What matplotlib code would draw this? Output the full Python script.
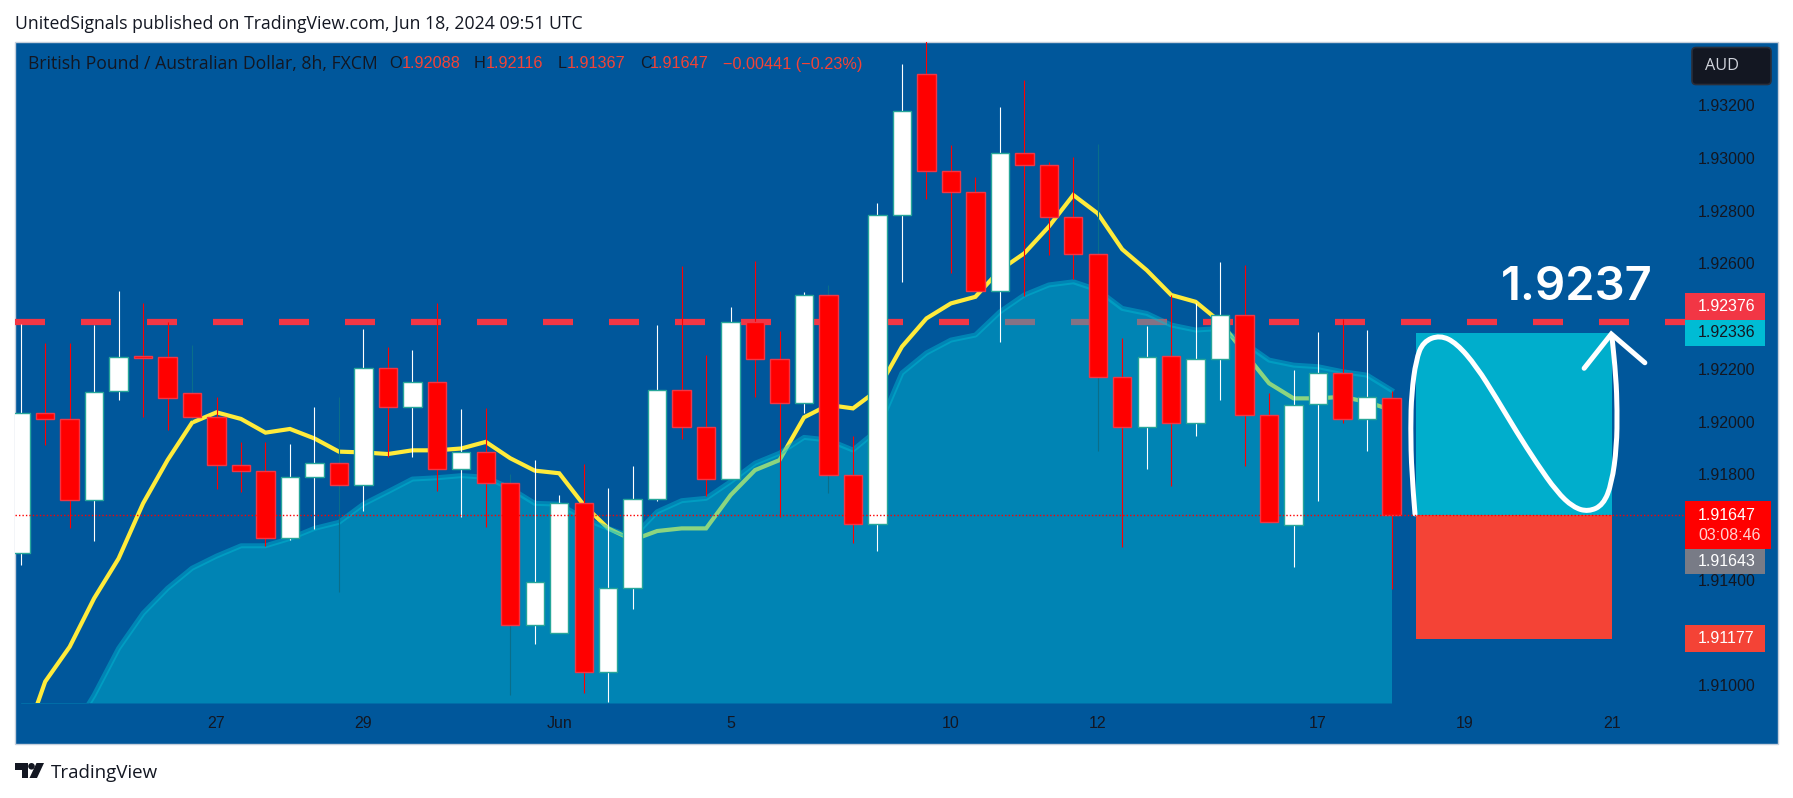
import matplotlib
matplotlib.use("Agg")
import matplotlib.pyplot as plt
from matplotlib.patches import Rectangle, FancyBboxPatch, Polygon, Circle, PathPatch
from matplotlib.path import Path

W, H = 1793, 798

# GBP/AUD 8h candles
opens = [1.91500, 1.92031, 1.92008, 1.91701, 1.92115, 1.92248, 1.92243, 1.92107, 1.92016, 1.91834,
         1.91814, 1.91557, 1.91789, 1.91842, 1.91760, 1.92202, 1.92054, 1.92149, 1.91821, 1.91883,
         1.91766, 1.91227, 1.91197, 1.91690, 1.91049, 1.91370, 1.91707, 1.92119, 1.91980, 1.91781,
         1.92378, 1.92236, 1.92069, 1.92480, 1.91796, 1.91610, 1.92782, 1.93316, 1.92949, 1.92869,
         1.92495, 1.93017, 1.92971, 1.92774, 1.92634, 1.92168, 1.91978, 1.92248, 1.91996, 1.92236,
         1.92403, 1.92024, 1.91607, 1.92066, 1.92183, 1.92011, 1.92088]
highs = [1.92370, 1.92297, 1.92298, 1.92366, 1.92495, 1.92449, 1.92377, 1.92290, 1.92094, 1.91923,
         1.91923, 1.91915, 1.92056, 1.92094, 1.92351, 1.92281, 1.92271, 1.92450, 1.92047, 1.92050,
         1.91801, 1.91854, 1.91721, 1.91839, 1.91747, 1.91831, 1.92366, 1.92591, 1.92252, 1.92435,
         1.92609, 1.92343, 1.92492, 1.92518, 1.91945, 1.92830, 1.93355, 1.93465, 1.93048, 1.92926,
         1.93191, 1.93295, 1.92983, 1.93002, 1.93052, 1.92317, 1.92362, 1.92480, 1.92449, 1.92605,
         1.92592, 1.92107, 1.92195, 1.92339, 1.92387, 1.92347, 1.92116]
lows = [1.91456, 1.91911, 1.91597, 1.91547, 1.92082, 1.92017, 1.91968, 1.92006, 1.91743, 1.91734,
        1.91529, 1.91551, 1.91593, 1.91355, 1.91661, 1.91867, 1.91867, 1.91737, 1.91639, 1.91601,
        1.90963, 1.91157, 1.91197, 1.90970, 1.90938, 1.91289, 1.91700, 1.91933, 1.91718, 1.91781,
        1.92094, 1.91637, 1.92033, 1.91728, 1.91538, 1.91510, 1.92530, 1.92844, 1.92562, 1.92495,
        1.92303, 1.92476, 1.92631, 1.92539, 1.91889, 1.91525, 1.91820, 1.91756, 1.91945, 1.92082,
        1.91833, 1.91620, 1.91450, 1.91700, 1.91993, 1.91889, 1.91367]
closes = [1.92031, 1.92008, 1.91701, 1.92113, 1.92246, 1.92241, 1.92088, 1.92016, 1.91834, 1.91814,
          1.91557, 1.91789, 1.91842, 1.91760, 1.92202, 1.92054, 1.92149, 1.91821, 1.91883, 1.91766,
          1.91227, 1.91393, 1.91690, 1.91049, 1.91370, 1.91707, 1.92119, 1.91980, 1.91781, 1.92378,
          1.92236, 1.92069, 1.92480, 1.91796, 1.91610, 1.92782, 1.93176, 1.92949, 1.92869, 1.92495,
          1.93017, 1.92971, 1.92774, 1.92634, 1.92168, 1.91978, 1.92246, 1.91996, 1.92236, 1.92403,
          1.92024, 1.91620, 1.92064, 1.92183, 1.92011, 1.92092, 1.91647]
yellow_ma = [1.90750, 1.91014, 1.91146, 1.91330, 1.91481, 1.91690, 1.91854, 1.91996, 1.92035, 1.92010,
             1.91958, 1.91972, 1.91936, 1.91886, 1.91883, 1.91877, 1.91891, 1.91891, 1.91898, 1.91923,
             1.91861, 1.91814, 1.91804, 1.91684, 1.91595, 1.91551, 1.91585, 1.91595, 1.91595, 1.91721,
             1.91816, 1.91854, 1.92016, 1.92063, 1.92050, 1.92119, 1.92284, 1.92391, 1.92448, 1.92473,
             1.92574, 1.92638, 1.92739, 1.92859, 1.92789, 1.92653, 1.92574, 1.92480, 1.92454, 1.92378,
             1.92260, 1.92145, 1.92088, 1.92088, 1.92094, 1.92074, 1.92044]
area_ma = [1.90530, 1.90680, 1.90810, 1.90963, 1.91140, 1.91273, 1.91368, 1.91444, 1.91490, 1.91529,
           1.91529, 1.91557, 1.91595, 1.91618, 1.91687, 1.91734, 1.91782, 1.91787, 1.91795, 1.91789,
           1.91747, 1.91690, 1.91687, 1.91633, 1.91595, 1.91561, 1.91658, 1.91700, 1.91709, 1.91772,
           1.91842, 1.91880, 1.91940, 1.91930, 1.91892, 1.91968, 1.92184, 1.92260, 1.92309, 1.92328,
           1.92416, 1.92480, 1.92518, 1.92530, 1.92499, 1.92429, 1.92410, 1.92366, 1.92347, 1.92353,
           1.92298, 1.92233, 1.92214, 1.92208, 1.92189, 1.92176, 1.92119]

# candles with a dark thin wick
dark_wicks = [7, 13, 20, 33, 44]

price_ticks = [1.932, 1.930, 1.928, 1.926, 1.922, 1.920, 1.918, 1.914, 1.910]
date_pos = [8, 14, 22, 29, 38, 44, 53, 59, 65]
date_labels = ["27", "29", "Jun", "5", "10", "12", "17", "19", "21"]

resistance = 1.92376
last_close = 1.91647
entry = 1.91647
target = 1.92336
stop = 1.91177
box_left, box_right = 57, 65

# hand drawn sketch, candle index / price
sketch_x = [56.96, 56.82, 56.78, 56.82, 57.0, 57.29, 57.98, 58.66, 59.48, 60.29, 61.11, 61.93, 62.75,
            63.42, 64.04, 64.65, 65.0, 65.2, 65.22, 65.17, 65.0]
sketch_y = [1.91650, 1.91804, 1.91980, 1.92107, 1.92233, 1.92303, 1.92328, 1.92297, 1.92208, 1.92088,
            1.91961, 1.91842, 1.91734, 1.91675, 1.91658, 1.91684, 1.91766, 1.91905, 1.92044, 1.92170,
            1.92328]
head_x = [63.87, 64.98, 66.35]
head_y = [1.92202, 1.92332, 1.92223]

BG = "#00579b"
INK = "#131722"
plt.rcParams["font.family"] = "Liberation Sans"
TEXT_FONT = "Open Sans"


def px_rect(l, t, r, b):
    return [l / W, 1 - b / H, (r - l) / W, (b - t) / H]


fig = plt.figure(figsize=(W / 100, H / 100), dpi=100, facecolor="white")

# pane background and chrome, in pixels
back = fig.add_axes([0, 0, 1, 1], zorder=0)
back.set_xlim(0, W)
back.set_ylim(H, 0)
back.axis("off")
back.add_patch(Rectangle((15, 41.5), 1763, 702.5, fc=BG, ec="#c5cfdc", lw=1))

ax = fig.add_axes(px_rect(15, 41.5, 1685, 703), zorder=1)
ax.patch.set_alpha(0)
ax.set_xlim(-0.233, 67.99)
ax.set_ylim(1.90933, 1.93441)
for s in ax.spines.values():
    s.set_visible(False)

ax.axhline(resistance, color="#f23645", lw=4.5, dashes=(4.8, 5.76), zorder=1, dash_capstyle="butt")
xs = list(range(len(opens)))
ax.plot(xs, yellow_ma, color="#ffeb3b", lw=3, zorder=2, solid_joinstyle="miter")
ax.fill_between(xs, area_ma, ax.get_ylim()[0], color="#00bcd4", alpha=0.45, lw=0, zorder=3)
ax.plot(xs, area_ma, color="#00bcd4", alpha=0.45, lw=3.6, zorder=3)

for i in xs:
    up = closes[i] >= opens[i]
    wick = "#ffffff" if up else "#ff0000"
    if i in dark_wicks:
        wick = "#0a6e8a"
    ax.vlines(i, lows[i], highs[i], color=wick, lw=0.8, zorder=4)
    ax.bar(i, abs(closes[i] - opens[i]), bottom=min(opens[i], closes[i]), width=0.75,
           color="#ffffff" if up else "#ff0000", edgecolor="#26a69a" if up else "#f23645",
           lw=1, zorder=5)

ax.add_patch(Rectangle((box_left, entry), box_right - box_left, target - entry, fc="#00aecc", lw=0, zorder=6))
ax.add_patch(Rectangle((box_left, stop), box_right - box_left, entry - stop, fc="#f44336", lw=0, zorder=6))

verts = [(sketch_x[0], sketch_y[0])]
codes = [Path.MOVETO]
for k in range(1, len(sketch_x) - 1):
    verts += [(sketch_x[k], sketch_y[k]),
              ((sketch_x[k] + sketch_x[k + 1]) / 2, (sketch_y[k] + sketch_y[k + 1]) / 2)]
    codes += [Path.CURVE3, Path.CURVE3]
verts.append((sketch_x[-1], sketch_y[-1]))
codes.append(Path.LINETO)
ax.add_patch(PathPatch(Path(verts, codes), fc="none", ec="white", lw=3.6, zorder=7, capstyle="round"))
ax.plot(head_x, head_y, color="white", lw=3.6, zorder=7, solid_capstyle="round", solid_joinstyle="miter")

ax.axhline(last_close, color="#ff0000", lw=1, ls=(0, (1, 1.5)), zorder=8)

ax.yaxis.tick_right()
ax.set_yticks(price_ticks)
ax.set_yticklabels(["%.5f" % p for p in price_ticks])
ax.set_xticks(date_pos)
ax.set_xticklabels(date_labels)
ax.tick_params(axis="y", length=0, pad=9.4, labelsize=11.5, labelcolor=INK)
ax.tick_params(axis="x", length=0, pad=9.5, labelsize=11.5, labelcolor=INK)

# overlays: header, legend, price tags, logo
top = fig.add_axes([0, 0, 1, 1], zorder=2)
top.set_xlim(0, W)
top.set_ylim(H, 0)
top.axis("off")
top.patch.set_alpha(0)

top.text(1501, 288.5, "1.9237", color="white", fontsize=34, family="Inter", weight="semibold",
         ha="left", va="center")

top.text(15, 24, "UnitedSignals published on TradingView.com, Jun 18, 2024 09:51 UTC",
         fontsize=12.7, color=INK, va="center", family=TEXT_FONT)
top.text(27.5, 64, "British Pound / Australian Dollar, 8h, FXCM", fontsize=12.7, color=INK, va="center",
         family=TEXT_FONT)
RED = "#f44336"
for x, s, c in [(389, "O", INK), (402, "1.92088", RED), (474, "H", INK), (486, "1.92116", RED),
                (558, "L", INK), (567, "1.91367", RED), (640, "C", INK), (650, "1.91647", RED),
                (723, "\u22120.00441 (\u22120.23%)", RED)]:
    top.text(x, 64, s, fontsize=11.7, color=c, va="center")

top.add_patch(FancyBboxPatch((1692, 47.5), 79, 37, boxstyle="round,pad=0,rounding_size=4",
                             fc=INK, ec="#2a2e39", lw=1.2, mutation_aspect=1))
top.text(1705, 65.7, "AUD", fontsize=11.7, color="#d1d4dc", va="center", family=TEXT_FONT)


def tag(t, b, text, bg, fg, r=1765):
    top.add_patch(Rectangle((1685, t), r - 1685, b - t, fc=bg, lw=0))
    top.text(1698, (t + b) / 2 if text != "1.91647" else 515, text, fontsize=11.5, color=fg, va="center")


tag(293, 319.5, "1.92376", "#f23645", "white")
tag(319.5, 346, "1.92336", "#00bcd4", INK)
tag(501, 549, "1.91647", "#ff0000", "white", r=1771)
top.text(1698, 535.7, "03:08:46", fontsize=11.5, color="#ffd0d0", va="center")
tag(549, 574, "1.91643", "#787b86", "white")
tag(625, 651.7, "1.91177", "#f44336", "white")

# TradingView mark
top.add_patch(Polygon([(15, 763), (28, 763), (28, 778), (21.5, 778), (21.5, 769.5), (15, 769.5)], fc=INK, lw=0))
top.add_patch(Circle((31.5, 766.3), 3.3, fc=INK, lw=0))
top.add_patch(Polygon([(36.5, 763), (44, 763), (37, 778), (29.5, 778)], fc=INK, lw=0))
top.text(50.5, 772.7, "TradingView", fontsize=13.5, color=INK, va="center", family=TEXT_FONT)

fig.savefig("out.png", dpi=100)
